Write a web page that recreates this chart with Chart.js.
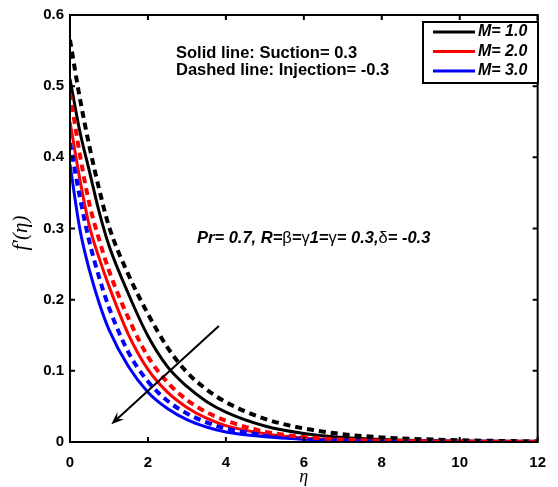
<!DOCTYPE html>
<html>
<head>
<meta charset="utf-8">
<script src="https://cdn.jsdelivr.net/npm/chart.js@4.4.1/dist/chart.umd.min.js"></script>
<style>
  html, body { margin: 0; padding: 0; background: #fff; }
  #wrap { width: 558px; height: 487px; }
</style>
</head>
<body>
<div id="wrap"><canvas id="velocityChart" width="558" height="487"></canvas></div>
<script>
// similarity variable eta
const eta = [0, 0.25, 0.5, 0.75, 1, 1.5, 2, 2.5, 3, 3.5, 4, 5, 6, 7, 8, 9, 10, 11, 12];

// f'(eta), suction = 0.3 (solid)
const suctionM1 = [0.51, 0.437, 0.38, 0.323, 0.276, 0.208, 0.149, 0.106, 0.078, 0.057, 0.042, 0.0225, 0.012, 0.0065, 0.0035, 0.002, 0.0012, 0.0008, 0.0005];
const suctionM2 = [0.45, 0.37, 0.303, 0.258, 0.219, 0.151, 0.102, 0.070, 0.0485, 0.0334, 0.023, 0.0115, 0.0055, 0.0028, 0.0014, 0.0008, 0.0005, 0.0003, 0.0002];
const suctionM3 = [0.39, 0.30, 0.241, 0.195, 0.158, 0.106, 0.07, 0.047, 0.0313, 0.021, 0.014, 0.0075, 0.004, 0.002, 0.001, 0.0006, 0.0004, 0.0002, 0.0001];

// f'(eta), injection = -0.3 (dashed)
const injectionM1 = [0.565, 0.484, 0.415, 0.355, 0.303, 0.235, 0.18, 0.133, 0.098, 0.074, 0.056, 0.0326, 0.019, 0.011, 0.0065, 0.004, 0.0025, 0.0015, 0.001];
const injectionM2 = [0.49, 0.405, 0.334, 0.284, 0.241, 0.174, 0.12, 0.084, 0.059, 0.042, 0.030, 0.0145, 0.007, 0.0035, 0.0018, 0.001, 0.0006, 0.0004, 0.0003];
const injectionM3 = [0.42, 0.345, 0.281, 0.231, 0.189, 0.126, 0.085, 0.058, 0.040, 0.0277, 0.019, 0.0097, 0.005, 0.0025, 0.0012, 0.0007, 0.0004, 0.0003, 0.0002];

const legendLabels = ['M= 1.0', 'M= 2.0', 'M= 3.0'];
const lineColors = ['#000000', '#ff0000', '#0000ff'];

const xTicks = [0, 2, 4, 6, 8, 10, 12];
const yTicks = [0, 0.1, 0.2, 0.3, 0.4, 0.5, 0.6];

const toPoints = (ys) => eta.map((x, i) => ({ x: x, y: ys[i] }));

const solidSet = (ys, color, label) => ({
    label: label,
    data: toPoints(ys),
    borderColor: color,
    borderWidth: 3,
    pointRadius: 0,
    fill: false,
    cubicInterpolationMode: 'monotone'
});

const dashedSet = (ys, color, label) => ({
    label: label,
    data: toPoints(ys),
    borderColor: color,
    borderWidth: 4,
    borderDash: [7, 5],
    pointRadius: 0,
    fill: false,
    cubicInterpolationMode: 'monotone'
});

// arrow drawn in data units (direction of increasing M)
const arrowFrom = { x: 3.82, y: 0.163 };
const arrowTo = { x: 1.06, y: 0.025 };

const sans = '"Liberation Sans", Arial, sans-serif';

const decorations = {
    id: 'decorations',
    afterDraw(chart) {
        const ctx = chart.ctx;
        const a = chart.chartArea;
        const xs = chart.scales.x;
        const ys = chart.scales.y;
        ctx.save();

        // box and inward ticks
        ctx.strokeStyle = '#000';
        ctx.lineWidth = 2;
        ctx.strokeRect(a.left, a.top, a.right - a.left, a.bottom - a.top);
        const tl = 5;
        ctx.beginPath();
        xTicks.forEach(v => {
            const px = xs.getPixelForValue(v);
            ctx.moveTo(px, a.bottom); ctx.lineTo(px, a.bottom - tl);
            ctx.moveTo(px, a.top); ctx.lineTo(px, a.top + tl);
        });
        yTicks.forEach(v => {
            const py = ys.getPixelForValue(v);
            ctx.moveTo(a.left, py); ctx.lineTo(a.left + tl, py);
            ctx.moveTo(a.right, py); ctx.lineTo(a.right - tl, py);
        });
        ctx.stroke();

        // axis titles
        ctx.fillStyle = '#000';
        ctx.textAlign = 'center';
        ctx.textBaseline = 'middle';
        ctx.font = 'italic 18px "Liberation Serif", "Times New Roman", serif';
        ctx.fillText('η', (a.left + a.right) / 2, 477);
        ctx.save();
        ctx.translate(21, 233);
        ctx.rotate(-Math.PI / 2);
        ctx.font = 'italic 21px "Liberation Serif", "Times New Roman", serif';
        ctx.fillText('f′(η)', 0, 0);
        ctx.restore();

        // notes
        ctx.textAlign = 'left';
        ctx.font = 'bold 16.5px ' + sans;
        ctx.fillText('Solid line: Suction= 0.3', 176, 53);
        ctx.fillText('Dashed line: Injection= -0.3', 176, 70);

        // parameter line, greek letters in upright face
        const bi = 'italic bold 16.5px ' + sans;
        const up = '16.5px ' + sans;
        const parts = [
            ['Pr= 0.7, R=', bi], ['β', up], ['=', bi], ['γ', up], ['1=', bi],
            ['γ', up], ['= 0.3,', bi], ['δ', up], ['= -0.3', bi]
        ];
        let tx = 197;
        parts.forEach(([s, f]) => {
            ctx.font = f;
            ctx.fillText(s, tx, 238);
            tx += ctx.measureText(s).width;
        });

        // legend
        const lx = 423, ly = 22, lw = 115, lh = 61;
        ctx.fillStyle = '#fff';
        ctx.fillRect(lx, ly, lw, lh);
        ctx.strokeStyle = '#000';
        ctx.lineWidth = 2;
        ctx.strokeRect(lx, ly, lw, lh);
        ctx.font = 'italic bold 16px ' + sans;
        legendLabels.forEach((lab, i) => {
            const ry = 32 + i * 19.5;
            ctx.strokeStyle = lineColors[i];
            ctx.lineWidth = 3;
            ctx.beginPath();
            ctx.moveTo(433, ry); ctx.lineTo(475, ry);
            ctx.stroke();
            ctx.fillStyle = '#000';
            ctx.fillText(lab, 478, ry);
        });

        // arrow
        const x0 = xs.getPixelForValue(arrowFrom.x), y0 = ys.getPixelForValue(arrowFrom.y);
        const x1 = xs.getPixelForValue(arrowTo.x), y1 = ys.getPixelForValue(arrowTo.y);
        const ang = Math.atan2(y1 - y0, x1 - x0);
        ctx.strokeStyle = '#000';
        ctx.fillStyle = '#000';
        ctx.lineWidth = 2;
        ctx.beginPath();
        ctx.moveTo(x0, y0);
        ctx.lineTo(x1 - 6 * Math.cos(ang), y1 - 6 * Math.sin(ang));
        ctx.stroke();
        const hl = 13, hw = 5;
        ctx.beginPath();
        ctx.moveTo(x1, y1);
        ctx.lineTo(x1 - hl * Math.cos(ang) + hw * Math.sin(ang), y1 - hl * Math.sin(ang) - hw * Math.cos(ang));
        ctx.lineTo(x1 - 0.6 * hl * Math.cos(ang), y1 - 0.6 * hl * Math.sin(ang));
        ctx.lineTo(x1 - hl * Math.cos(ang) - hw * Math.sin(ang), y1 - hl * Math.sin(ang) + hw * Math.cos(ang));
        ctx.closePath();
        ctx.fill();

        ctx.restore();
    }
};

new Chart(document.getElementById('velocityChart'), {
    type: 'line',
    data: {
        datasets: [
            dashedSet(injectionM2, lineColors[1], 'M= 2.0 injection'),
            dashedSet(injectionM3, lineColors[2], 'M= 3.0 injection'),
            dashedSet(injectionM1, lineColors[0], 'M= 1.0 injection'),
            solidSet(suctionM3, lineColors[2], legendLabels[2]),
            solidSet(suctionM2, lineColors[1], legendLabels[1]),
            solidSet(suctionM1, lineColors[0], legendLabels[0])
        ]
    },
    options: {
        responsive: false,
        animation: false,
        layout: { padding: { left: 0, top: 15, right: 16, bottom: 0 } },
        plugins: {
            legend: { display: false },
            tooltip: { enabled: false }
        },
        scales: {
            x: {
                type: 'linear',
                min: 0,
                max: 12,
                afterFit: (s) => { s.height = 45; },
                afterBuildTicks: (s) => { s.ticks = xTicks.map(v => ({ value: v })); },
                grid: { display: false, drawTicks: false },
                border: { display: false },
                ticks: { color: '#000', font: { family: '"Liberation Sans", Arial', size: 15, weight: 'bold' }, padding: 12, maxRotation: 0 }
            },
            y: {
                min: 0,
                max: 0.6,
                afterFit: (s) => { s.width = 70; },
                afterBuildTicks: (s) => { s.ticks = yTicks.map(v => ({ value: v })); },
                grid: { display: false, drawTicks: false },
                border: { display: false },
                ticks: { color: '#000', font: { family: '"Liberation Sans", Arial', size: 15, weight: 'bold' }, padding: 6, callback: (v) => String(Math.round(v * 10) / 10) }
            }
        }
    },
    plugins: [decorations]
});
</script>
</body>
</html>
